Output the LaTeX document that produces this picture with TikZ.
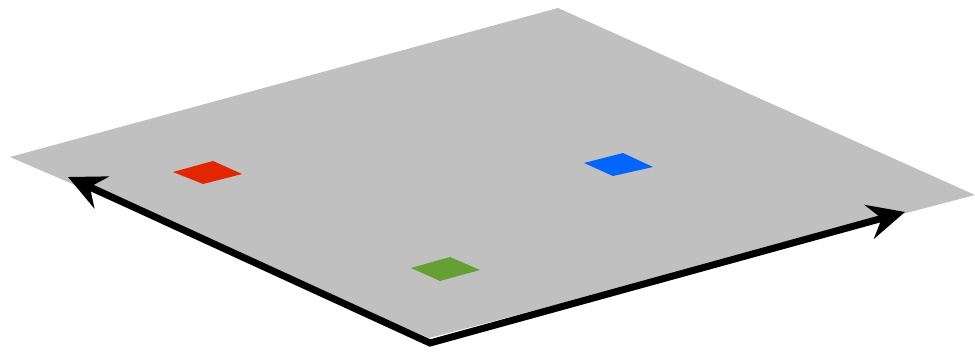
\documentclass[tikz,border=0pt]{standalone}
\usetikzlibrary{arrows.meta}
\definecolor{plane}{RGB}{192,192,192}
\definecolor{redsq}{RGB}{228,38,0}
\definecolor{bluesq}{RGB}{0,102,255}
\definecolor{greensq}{RGB}{101,160,52}
\tikzset{
  axes/.style={line width=7pt, line join=miter,
    {Stealth[length=37pt,width=35pt,inset=13pt]}-{Stealth[length=37pt,width=35pt,inset=13pt]}},
  tile/.style={draw=none}
}
\begin{document}
\begin{tikzpicture}[x=1pt,y=-1pt]
\useasboundingbox (0,0) rectangle (975,352);
% plane
\fill[plane] (10,157) -- (558,8) -- (975,195) -- (429,338) -- cycle;
% tiles
\fill[redsq,tile] (173,172) -- (213,161) -- (242,174) -- (203,184) -- cycle;
\fill[bluesq,tile] (584,163) -- (623,153) -- (653,167) -- (613,176) -- cycle;
\fill[greensq,tile] (411,268) -- (450,257) -- (480,270) -- (440,281) -- cycle;
% axes
\coordinate (o) at (430,343);
\coordinate (xl) at (68,177);
\coordinate (xr) at (905,212);
\draw[axes] (xl) -- (o) -- (xr);
\end{tikzpicture}
\end{document}
